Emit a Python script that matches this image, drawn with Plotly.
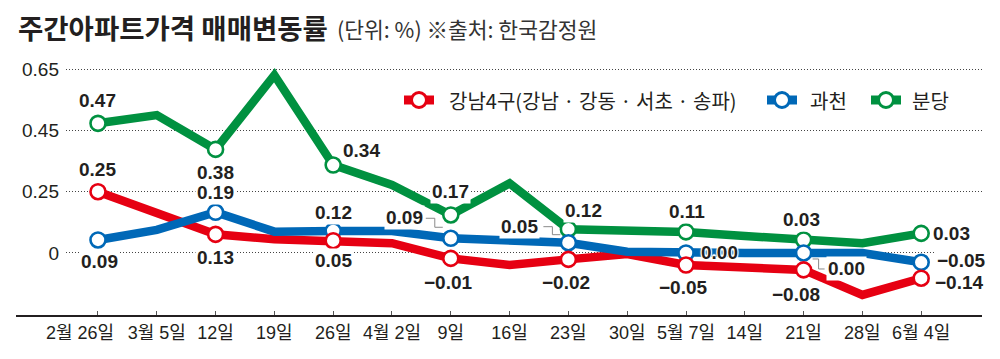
import numpy as np
import plotly.graph_objects as go

# ---------------- data ----------------
dates = ["2월 26일", "3월 5일", "12일", "19일", "26일", "4월 2일", "9일", "16일",
         "23일", "30일", "5월 7일", "14일", "21일", "28일", "6월 4일"]

# levels as drawn in the picture (value units of the chart's axis)
gangnam = [0.25, 0.163, 0.076, 0.056, 0.05, 0.04, -0.022, -0.049, -0.026, -0.004,
           -0.049, -0.062, -0.069, -0.171, -0.103]
gwacheon = [0.053, 0.094, 0.166, 0.087, 0.09, 0.09, 0.06, 0.053, 0.042, 0.005,
            0.0, 0.0, 0.0, 0.0, -0.038]
bundang = [0.473, 0.50, 0.388, 0.63, 0.337, 0.272, 0.155, 0.277, 0.097, 0.09,
           0.086, 0.069, 0.053, 0.04, 0.08]

# printed value labels
gangnam_labels = ["0.25", "", "0.13", "", "0.05", "", "−0.01", "", "−0.02", "",
                  "−0.05", "", "−0.08", "", "−0.14"]
gwacheon_labels = ["0.09", "", "0.19", "", "0.12", "", "0.09", "", "0.05", "",
                   "0.00", "", "0.00", "", "−0.05"]
bundang_labels = ["0.47", "", "0.38", "", "0.34", "", "0.17", "", "0.12", "",
                  "0.11", "", "0.03", "", "0.03"]

series_names = ["강남4구(강남 · 강동 · 서초 · 송파)", "과천", "분당"]
ytick_values = [0, 0.25, 0.45, 0.65]
ytick_labels = ["0", "0.25", "0.45", "0.65"]

# ---------------- style ----------------
RED, BLUE, GREEN = "#E60012", "#0068B7", "#009140"
INK = "#231F20"
NARROW = "Liberation Sans, Arial, Noto Sans CJK KR"
KR = "Noto Sans CJK KR, Noto Sans, sans-serif"

# chart's own (piecewise) value scale: ticks are evenly spaced
SCALE_IN = [-1.0, 0.0, 0.25, 0.45, 0.65, 1.0]
SCALE_OUT = [-4.0, 0.0, 1.0, 2.0, 3.0, 4.75]


def scale(v):
    return np.interp(np.asarray(v, dtype=float), SCALE_IN, SCALE_OUT)


ML, MR, MT, MB = 66, 18, 60, 43
W, H = 1000, 359
PW, PH = W - ML - MR, H - MT - MB


def px_x(p):
    return (p - ML) / PW


def px_y(p):
    return (H - MB - p) / PH


fig = go.Figure()

series = [
    (gangnam, gangnam_labels, RED),
    (gwacheon, gwacheon_labels, BLUE),
    (bundang, bundang_labels, GREEN),
]

# lines
for vals, labs, col in series:
    fig.add_trace(go.Scatter(x=dates, y=scale(vals), mode="lines",
                             line=dict(color=col, width=8.5),
                             hoverinfo="skip"))

# markers (green, blue, red so red sits on top)
for vals, labs, col in [series[2], series[1], series[0]]:
    xs = [d for d, l in zip(dates, labs) if l]
    ys = [v for v, l in zip(vals, labs) if l]
    fig.add_trace(go.Scatter(x=xs, y=scale(ys), mode="markers",
                             marker=dict(size=15, color="white",
                                         line=dict(color=col, width=2.6)),
                             hoverinfo="skip"))

# label placement: (dx, dy(up), anchor, halo)
offsets = {
    "r": {0: (0, 22, "center", False), 2: (0, -23, "center", False),
          4: (0, -20, "center", False), 6: (-2, -24, "center", False),
          8: (-2, -23, "center", False), 10: (-3, -22, "center", False),
          12: (-8, -25, "center", False), 14: (12, -4, "left", False)},
    "b": {0: (2, -22, "center", False), 2: (0, 20, "center", False),
          4: (0, 18, "center", False), 6: (-26, 21, "right", False),
          8: (-28, 16, "right", False), 10: (13, 0, "left", True),
          12: (22, -16, "left", False), 14: (14, 2, "left", False)},
    "g": {0: (0, 23, "center", False), 2: (0, -23, "center", False),
          4: (8, 15, "left", False), 6: (0, 23, "center", False),
          8: (15, 19, "center", False), 10: (1, 20, "center", False),
          12: (-2, 20, "center", False), 14: (10, 0, "left", False)},
}
HALO = ("1px 1px 1px white, -1px -1px 1px white, 1px -1px 1px white, "
        "-1px 1px 1px white, 0 2px 1px white, 0 -2px 1px white")

annotations = []
for key, (vals, labs, col) in zip(["r", "b", "g"], series):
    for i, lab in enumerate(labs):
        if not lab:
            continue
        dx, dy, anc, halo = offsets[key][i]
        font = dict(family=NARROW, size=19, color=INK, weight="bold")
        if halo:
            font["shadow"] = HALO
        annotations.append(dict(
            x=dates[i], y=float(scale(vals[i])), xref="x", yref="y",
            text=lab, showarrow=False, xshift=dx, yshift=dy,
            xanchor=anc, yanchor="middle", font=font,
            bgcolor=None if halo else "white", borderpad=1))

# first x label sits a little to the left in the original
annotations.append(dict(x=dates[0], y=px_y(333), xref="x", yref="paper",
                        text=dates[0], showarrow=False, xshift=-18,
                        xanchor="center", yanchor="middle",
                        font=dict(family=NARROW, size=18, color=INK)))

# title
annotations.append(dict(x=px_x(16), y=px_y(27), xref="paper", yref="paper",
                        text="주간아파트가격 매매변동률", showarrow=False,
                        xanchor="left", yanchor="middle",
                        font=dict(family=KR, size=27.5, color=INK, weight="bold")))
annotations.append(dict(x=px_x(335), y=px_y(28), xref="paper", yref="paper",
                        text="(단위: %) ※출처: 한국감정원", showarrow=False,
                        xanchor="left", yanchor="middle",
                        font=dict(family=KR, size=21.5, color="#333333")))

shapes = []
# legend
legend_items = [(series_names[0], RED, 419, 447),
                (series_names[1], BLUE, 782, 808),
                (series_names[2], GREEN, 886, 910)]
LY = 100
for name, col, cx, tx in legend_items:
    shapes.append(dict(type="line", xref="paper", yref="paper",
                       x0=px_x(cx - 15), x1=px_x(cx + 15), y0=px_y(LY), y1=px_y(LY),
                       line=dict(color=col, width=9), layer="above"))
    shapes.append(dict(type="circle", xref="paper", yref="paper",
                       xsizemode="pixel", ysizemode="pixel",
                       xanchor=px_x(cx), yanchor=px_y(LY),
                       x0=-7.5, x1=7.5, y0=-7.5, y1=7.5,
                       fillcolor="white", line=dict(color=col, width=3),
                       layer="above"))
    annotations.append(dict(x=px_x(tx), y=px_y(LY), xref="paper", yref="paper",
                            text=name, showarrow=False, xanchor="left",
                            yanchor="middle",
                            font=dict(family=KR, size=20, color=INK)))

# leader lines for some 과천 labels
leaders = {6: "M -25,20 L -16,20 L -16,11 L -8,11",
           8: "M -25,16 L -16,16 L -16,8 L -8,8",
           12: "M 9,-6 L 15,-6 L 15,-16 L 21,-16"}
for i, path in leaders.items():
    shapes.append(dict(type="path", xref="x", yref="y",
                       xsizemode="pixel", ysizemode="pixel",
                       xanchor=dates[i], yanchor=float(scale(gwacheon[i])),
                       path=path, line=dict(color="#8a8a8a", width=1),
                       layer="above"))

# x axis baseline extending left past the plot
shapes.append(dict(type="line", xref="paper", yref="paper",
                   x0=px_x(16), x1=px_x(982), y0=0, y1=0,
                   line=dict(color=INK, width=2), layer="above"))

fig.update_layout(
    width=W, height=H,
    margin=dict(l=ML, r=MR, t=MT, b=MB),
    paper_bgcolor="white", plot_bgcolor="white",
    showlegend=False,
    font=dict(family=NARROW, color=INK),
    annotations=annotations, shapes=shapes,
    xaxis=dict(type="category", range=[-0.544, 15.034],
               tickmode="array", tickvals=dates,
               ticktext=[""] + dates[1:],
               ticks="inside", ticklen=5, tickwidth=1, tickcolor="#555555",
               showgrid=False, showline=False, zeroline=False,
               tickfont=dict(family=NARROW, size=18, color=INK),
               ticklabelstandoff=4, fixedrange=True),
    yaxis=dict(range=[-1.028, 3.148], tickmode="array",
               tickvals=scale(ytick_values).tolist(), ticktext=ytick_labels,
               showgrid=True, gridcolor="#444444", gridwidth=1,
               griddash="1px,2px", zeroline=False, showline=False,
               ticks="", tickfont=dict(family=NARROW, size=19, color=INK),
               ticklabelstandoff=6, fixedrange=True),
)

fig.write_html("out.html", config={"displayModeBar": False},
               post_script="document.body.style.margin='0px';")
